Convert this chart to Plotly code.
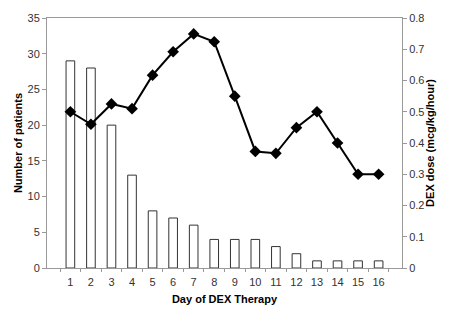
import plotly.graph_objects as go

days = [str(d) for d in range(1, 17)]
patients = [29, 28, 20, 13, 8, 7, 6, 4, 4, 4, 3, 2, 1, 1, 1, 1]
dose = [0.50, 0.46, 0.525, 0.51, 0.617, 0.692, 0.749, 0.724, 0.55, 0.373, 0.367, 0.449, 0.50, 0.40, 0.30, 0.30]

fig = go.Figure()
fig.add_trace(go.Bar(x=days, y=patients, marker=dict(color="white", line=dict(color="#333333", width=1)),
                     yaxis="y", showlegend=False))
fig.add_trace(go.Scatter(x=days, y=dose, mode="lines+markers", yaxis="y2",
                         line=dict(color="black", width=2),
                         marker=dict(symbol="diamond", size=9, color="black"), showlegend=False))

axis_font = dict(family="Liberation Sans, Arial", size=11, color="#333333")
title_font = dict(family="Liberation Sans, Arial", size=11, color="black")

fig.update_layout(
    width=450, height=331,
    margin=dict(l=47, r=48, t=15, b=63),
    plot_bgcolor="white", paper_bgcolor="white",
    bargap=0.58,
    xaxis=dict(type="category", showline=True, linecolor="#999999", linewidth=1, mirror=True,
               ticks="outside", tickson="boundaries", ticklen=3, tickcolor="#999999",
               tickfont=axis_font, showgrid=False, tickangle=0, ticklabelstandoff=4,
               title=dict(text="<b>Day of DEX Therapy</b>", font=title_font, standoff=8)),
    yaxis=dict(range=[0, 35], dtick=5, showline=True, linecolor="#999999", linewidth=1,
               ticks="outside", ticklen=4, tickcolor="#999999", tickfont=axis_font,
               showgrid=False, zeroline=False,
               title=dict(text="<b>Number of patients</b>", font=title_font, standoff=2)),
    yaxis2=dict(range=[0, 0.8], dtick=0.1, overlaying="y", side="right", showline=True,
                linecolor="#999999", linewidth=1, ticks="outside", ticklen=4, tickcolor="#999999",
                tickfont=axis_font, showgrid=False, zeroline=False, tickformat="~g",
                title=dict(text="<b>DEX dose (mcg/kg/hour)</b>", font=title_font, standoff=0)),
)

fig.write_html("out.html")
